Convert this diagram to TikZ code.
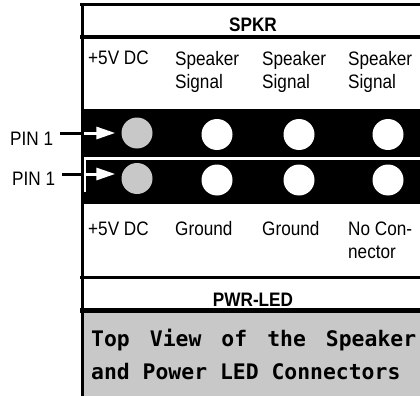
\documentclass[tikz,border=0pt]{standalone}
\usepackage{fontspec}
\usetikzlibrary{arrows.meta}
\setmainfont[FakeStretch=0.88]{Liberation Sans}
\newfontfamily\viewfont{DejaVu Sans Mono}
\definecolor{pingray}{HTML}{C8C8C8}
\tikzset{
  celltext/.style={font=\fontsize{19.5}{23.5}\selectfont, align=left, anchor=base west, inner sep=0pt},
  headtext/.style={font=\fontsize{19.5}{23}\selectfont\bfseries, anchor=base, inner sep=0pt},
  pintext/.style={font=\fontsize{19.5}{23}\selectfont, anchor=base west, inner sep=0pt},
  viewtext/.style={font=\fontsize{21.4}{25}\selectfont\viewfont\bfseries, anchor=base west, inner sep=0pt},
  pinhole/.style={circle, fill=white, minimum size=31pt, inner sep=0pt},
  pinfirst/.style={pinhole, fill=pingray},
  pinline/.style={black, line width=3pt, shorten <=7pt},
  pinarrow/.style={white, line width=3pt, shorten >=6pt, -{Triangle[length=19pt,width=12pt]}}
}
\begin{document}
\begin{tikzpicture}[x=1pt, y=-1pt]

  \useasboundingbox (0,0) rectangle (420,396);

  % ---- Background bands ----
  \fill[black] (81,109) rectangle (420,204);  % connector
  \fill[white] (84,157) rectangle (420,160);  % divider
  \fill[white] (84,157) rectangle (86,192);
  \fill[pingray] (84,313) rectangle (420,396);  % caption

  % ---- Table rules ----
  \fill[black] (80,3) rectangle (420,6);
  \fill[black] (80,35) rectangle (420,39);
  \fill[black] (80,276) rectangle (420,279);
  \fill[black] (80,308) rectangle (420,313);
  \fill[black] (81,3) rectangle (84,109);
  \fill[black] (81,204) rectangle (84,396);

  % ---- Headers ----
  \node[headtext] (spkr) at (253,32) {SPKR};
  \node[headtext] (pwrled) at (253,306) {PWR-LED};

  % ---- Upper row labels ----
  \node[celltext] (upA) at (88,65) {+5V DC};
  \node[celltext] (upB) at (175,88.5) {Speaker\\Signal};
  \node[celltext] (upC) at (262,88.5) {Speaker\\Signal};
  \node[celltext] (upD) at (348,88.5) {Speaker\\Signal};

  % ---- Pins ----
  \node[pinfirst] (pinA) at (137,133) {};
  \node[pinhole] (pinB) at (217,134.5) {};
  \node[pinhole] (pinC) at (299,134.5) {};
  \node[pinhole] (pinD) at (388,134.5) {};
  \node[pinfirst] (pinE) at (137,178.5) {};
  \node[pinhole] (pinF) at (217,180) {};
  \node[pinhole] (pinG) at (299,180) {};
  \node[pinhole] (pinH) at (388,180) {};

  % ---- Lower row labels ----
  \node[celltext] (lowA) at (88,235) {+5V DC};
  \node[celltext] (lowB) at (175,235) {Ground};
  \node[celltext] (lowC) at (262,235) {Ground};
  \node[celltext] (lowD) at (348,258.5) {No Con-\\nector};

  % ---- Pin 1 pointers ----
  \node[pintext] (pinoneA) at (10,145) {PIN 1};
  \node[pintext] (pinoneB) at (12,185) {PIN 1};
  \coordinate (entryA) at (84,133);
  \coordinate (entryB) at (84,174);
  \draw[pinline] (pinoneA.east |- entryA) -- (entryA);
  \draw[pinline] (pinoneB.east |- entryB) -- (entryB);
  \draw[pinarrow] (entryA) -- (pinA.west);
  \draw[pinarrow] (entryB) -- (pinE.west |- entryB);

  % ---- Caption ----
  \node[viewtext] (viewA) at (91,346)
    {\makebox[325pt][s]{Top\hfill View\hfill of\hfill the\hfill Speaker}};
  \node[viewtext] (viewB) at (91,379) {and Power LED Connectors};

\end{tikzpicture}
\end{document}
